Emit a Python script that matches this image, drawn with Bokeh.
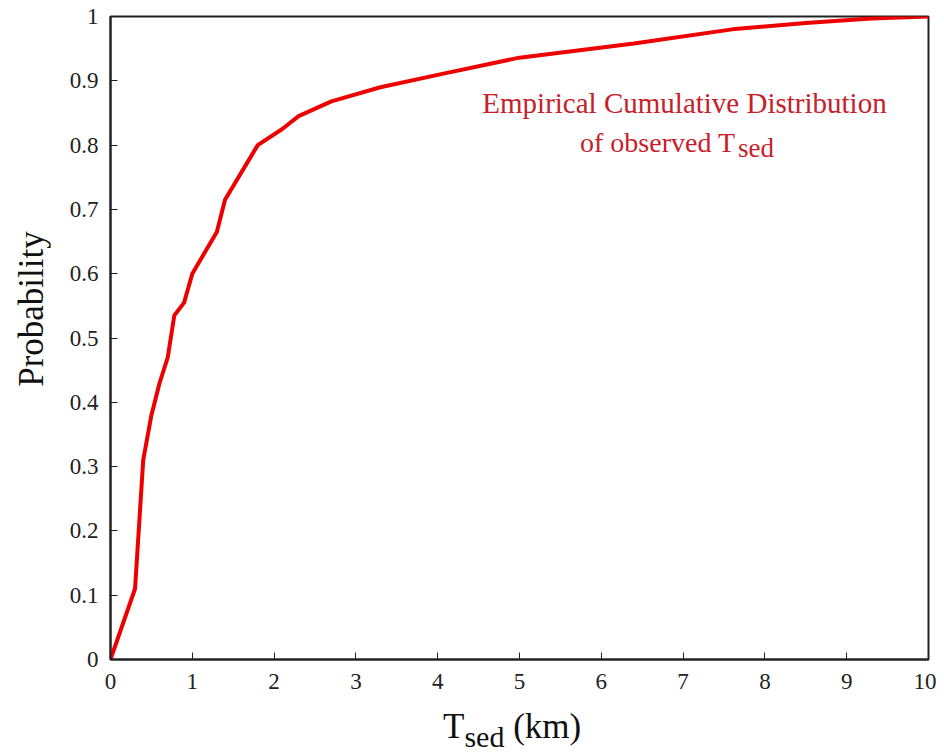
from bokeh.plotting import figure
from bokeh.models import Range1d, FixedTicker, Label, Div
from bokeh.layouts import row, column
from bokeh.embed import file_html
from bokeh.resources import INLINE

# Data
t_sed_km = [0, 0.3, 0.4, 0.5, 0.6, 0.7, 0.78, 0.9, 1.0, 1.3, 1.4, 1.8, 2.1, 2.3,
            2.7, 3.3, 4.1, 5.0, 6.4, 7.6, 8.5, 9.3, 10]
probability = [0, 0.11, 0.31, 0.38, 0.43, 0.47, 0.535, 0.555, 0.60, 0.665, 0.715,
               0.80, 0.825, 0.845, 0.868, 0.89, 0.912, 0.936, 0.958, 0.98, 0.99,
               0.997, 1.0]

x_ticks = [0, 1, 2, 3, 4, 5, 6, 7, 8, 9, 10]
y_ticks = [0, 0.1, 0.2, 0.3, 0.4, 0.5, 0.6, 0.7, 0.8, 0.9, 1.0]
y_tick_labels = ["0", "0.1", "0.2", "0.3", "0.4", "0.5", "0.6", "0.7", "0.8", "0.9", "1"]

FONT = "Liberation Serif"
ANNOT_COLOR = "#c8202a"

p = figure(width=886, height=700, output_backend="svg", toolbar_location=None,
           x_range=Range1d(0, 10), y_range=Range1d(0, 1),
           min_border_left=60, min_border_right=8, min_border_top=16,
           min_border_bottom=41)

p.line(t_sed_km, probability, line_color="#ee0000", line_width=4)

p.xgrid.visible = False
p.ygrid.visible = False
p.outline_line_color = "#222222"
p.outline_line_width = 2

for ax in (p.xaxis[0], p.yaxis[0]):
    ax.axis_line_color = "#222222"
    ax.axis_line_width = 2
    ax.major_tick_in = 7
    ax.major_tick_out = 0
    ax.major_tick_line_color = "#222222"
    ax.major_tick_line_width = 1
    ax.minor_tick_line_color = None
    ax.major_label_text_font = FONT
    ax.major_label_text_font_size = "23px"
    ax.major_label_text_color = "#222222"

p.xaxis[0].ticker = FixedTicker(ticks=x_ticks)
p.yaxis[0].ticker = FixedTicker(ticks=y_ticks)
p.yaxis[0].major_label_overrides = {t: s for t, s in zip(y_ticks, y_tick_labels)}
p.xaxis[0].major_label_standoff = 14
p.yaxis[0].major_label_standoff = 12

# In-plot annotation
p.add_layout(Label(x=7.017, y=0.866, text="Empirical Cumulative Distribution",
                   text_font=FONT, text_font_size="29px", text_color=ANNOT_COLOR,
                   text_align="center", text_baseline="alphabetic"))
p.add_layout(Label(x=5.74, y=0.804, text="of observed T",
                   text_font=FONT, text_font_size="28px", text_color=ANNOT_COLOR,
                   text_align="left", text_baseline="alphabetic"))
p.add_layout(Label(x=7.67, y=0.795, text="sed",
                   text_font=FONT, text_font_size="27px", text_color=ANNOT_COLOR,
                   text_align="left", text_baseline="alphabetic"))

# Y axis title (rotated) and X axis title (with subscript) as real HTML text
ylabel = Div(
    width=50, height=748, margin=0,
    text=('<div style="position:absolute; left:31px; top:309px; '
          'transform: translate(-50%, -50%) rotate(-90deg); white-space:nowrap; '
          'font-family:\'Liberation Serif\'; font-size:35px; line-height:35px; '
          'color:#111111;">Probability</div>'))

xlabel = Div(
    width=886, height=48, margin=0,
    text=('<div style="padding-left:393px; padding-top:9px; white-space:nowrap; '
          'font-family:\'Liberation Serif\'; font-size:35px; line-height:35px; '
          'color:#111111;">T<span style="font-size:30px; position:relative; '
          'top:9px;">sed</span> (km)</div>'))

layout = row(ylabel, column(p, xlabel, spacing=0), spacing=0)

open("out.html", "w").write(file_html(layout, INLINE))
